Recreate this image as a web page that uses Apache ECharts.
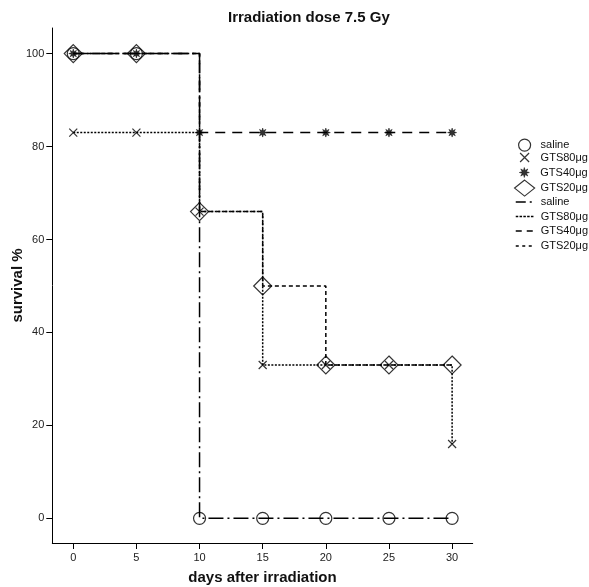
<!DOCTYPE html>
<html><head><meta charset="utf-8">
<script src="https://cdn.jsdelivr.net/npm/echarts@6/dist/echarts.min.js"></script>
<style>html,body{margin:0;padding:0;background:#fff}#c{width:589px;height:587px}</style>
</head><body><div id="c"></div>
<script>
var days = [0, 5, 10, 15, 20, 25, 30];
var saline = [100, 100, 0, 0, 0, 0, 0];
var gts80 = [83, 83, 66, 33, 33, 33, 16];
var gts40 = [100, 100, 83, 83, 83, 83, 83];
var gts20 = [100, 100, 66, 50, 33, 33, 33];
var groupNames = ['saline', 'GTS80μg', 'GTS40μg', 'GTS20μg'];
var xTicks = [0, 5, 10, 15, 20, 25, 30];
var yTicks = [0, 20, 40, 60, 80, 100];
var titleText = 'Irradiation dose 7.5 Gy';

var FONT = 'Liberation Sans, Arial, sans-serif';
function pts(v){ return days.map(function(d,i){ return [d, v[i]]; }); }
function starPath(){
  var s = 'path://', n = 16;
  for (var i=0;i<n;i++){
    var a = Math.PI*2*i/n - Math.PI/2;
    var r = (i%2===0) ? 10 : 4.5;
    s += (i===0?'M':'L') + (10 + r*Math.cos(a)).toFixed(2) + ',' + (10 + r*Math.sin(a)).toFixed(2) + ' ';
  }
  return s + 'Z';
}
var crossPath = 'path://M0,0L10,10M10,0L0,10';
var symbols = ['circle', crossPath, starPath(), 'diamond'];
var symSizes = [12, 8, 9, 18];
var dashes = [[15, 4, 2, 4], [2, 1.5], [10, 7], [4, 3]];
var legendDashes = [[10, 4, 2, 2], [2.5, 1.3], [6, 5], [3, 3.5]];
var vals = [saline, gts80, gts40, gts20];

var series = [];
for (var k=0;k<4;k++){
  series.push({
    name: 'm:' + groupNames[k], type: 'scatter', data: pts(vals[k]),
    symbol: symbols[k], symbolSize: symSizes[k], z: 5,
    itemStyle: { color: k===2 ? '#000' : 'rgba(0,0,0,0)', borderColor: '#000', borderWidth: k===2 ? 0.6 : 1.2 }
  });
}
for (var k=0;k<4;k++){
  series.push({
    name: 'l:' + groupNames[k], type: 'line', step: 'end', data: pts(vals[k]),
    symbol: 'none', z: 3,
    lineStyle: { color: '#000', width: 1.5, type: dashes[k] },
    itemStyle: { color: '#000' }
  });
}

var rowY = [144.5, 158, 173, 187.5, 202.5, 217, 231.5, 246.5];
var iconW = [12, 9, 10, 20, 18, 18, 18, 18];
var iconH = [12, 9, 10, 16, 8, 8, 8, 8];
var legends = [];
for (var i=0;i<8;i++){
  var w = iconW[i], h = iconH[i];
  var left = 524 - w/2;
  var item = { name: series[i].name };
  if (i >= 4) {
    item.itemStyle = { color: 'rgba(0,0,0,0)', borderWidth: 0, opacity: 0 };
    item.lineStyle = { color: '#000', width: 1.5, type: legendDashes[i-4] };
  }
  var lg = {
    orient: 'vertical', left: left, top: rowY[i] - Math.max(h, 12)/2, padding: 0,
    itemWidth: w, itemHeight: h, itemGap: 0,
    data: [item], selectedMode: false,
    formatter: function(n){ return n.slice(2); },
    textStyle: { fontFamily: FONT, fontSize: 11, color: '#111', padding: [0, 0, 0, 540 - (left + w) - 5] }
  };
  if (i < 4) { lg.itemStyle = { borderWidth: i===2 ? 0.6 : 1.2 }; }
  legends.push(lg);
}

var chart = echarts.init(document.getElementById('c'));
chart.setOption({
  animation: false,
  backgroundColor: '#fff',
  title: { text: titleText, left: 228, top: 10, padding: 0, textStyle: { fontFamily: FONT, fontWeight: 'bold', fontSize: 15, color: '#111' } },
  grid: { left: 52.3, right: 116.3, top: 28, bottom: 44, containLabel: false, outerBoundsMode: 'none' },
  legend: legends,
  xAxis: {
    type: 'value', min: -1.66, max: 31.63,
    name: 'days after irradiation', nameLocation: 'middle', nameGap: 27, nameMoveOverlap: false,
    nameTextStyle: { fontFamily: FONT, fontWeight: 'bold', fontSize: 15, color: '#111' },
    axisLine: { onZero: false, lineStyle: { color: '#000', width: 1 } },
    axisTick: { show: true, length: 6, customValues: xTicks, lineStyle: { color: '#000' } },
    axisLabel: { customValues: xTicks, fontFamily: FONT, fontSize: 11, color: '#222', margin: 9 },
    splitLine: { show: false }
  },
  yAxis: {
    type: 'value', min: -5.3, max: 105.5,
    name: 'survival %', nameLocation: 'middle', nameGap: 27, nameRotate: 90, nameMoveOverlap: false,
    nameTextStyle: { fontFamily: FONT, fontWeight: 'bold', fontSize: 15, color: '#111' },
    axisLine: { show: true, onZero: false, lineStyle: { color: '#000', width: 1 } },
    axisTick: { show: true, length: 6, customValues: yTicks, lineStyle: { color: '#000' } },
    axisLabel: { customValues: yTicks, fontFamily: FONT, fontSize: 11, color: '#222', margin: 8 },
    splitLine: { show: false }
  },
  series: series
});
</script></body></html>
